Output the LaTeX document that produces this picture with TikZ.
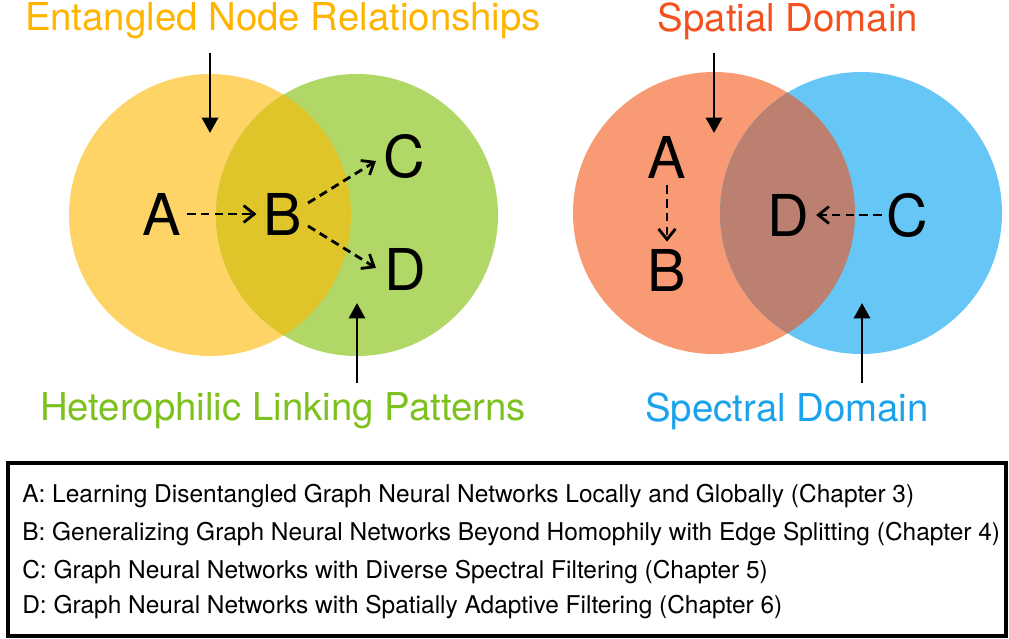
\documentclass[tikz,border=0pt]{standalone}
\usepackage{fontspec}
\setmainfont{TeX Gyre Heros}
\usetikzlibrary{arrows.meta}
\definecolor{cyellow}{HTML}{FED467}
\definecolor{cgreen}{HTML}{B1D767}
\definecolor{cyg}{HTML}{DFC42A}
\definecolor{cred}{HTML}{F89A74}
\definecolor{cblue}{HTML}{66C6F5}
\definecolor{crb}{HTML}{BB8070}
\definecolor{tyellow}{HTML}{FFB400}
\definecolor{tgreen}{HTML}{7DC11F}
\definecolor{tred}{HTML}{F4511E}
\definecolor{tblue}{HTML}{1AA3EC}
\begin{document}
\begin{tikzpicture}[x=0.025cm,y=-0.025cm,
  letter/.style={font=\fontsize{41}{41}\selectfont, inner sep=1pt},
  title/.style={font=\fontsize{27.3}{28}\selectfont},
  item/.style={font=\fontsize{17.4}{18}\selectfont, anchor=west, inner sep=0pt},
  dasharrow/.style={line width=2pt, dash pattern=on 6pt off 3.8pt, -{Straight Barb[length=7.5pt,width=12pt]}},
  bigarrow/.style={line width=2.1pt, -{Triangle[length=11pt,width=11.5pt]}}]
\useasboundingbox (0,0) rectangle (1009,639);
% left venn
\fill[cyellow] (210,215) circle [radius=141];
\fill[cgreen] (357,215) circle [radius=141];
\begin{scope}
\clip (210,215) circle [radius=141];
\fill[cyg] (357,215) circle [radius=141];
\end{scope}
% right venn
\fill[cred] (714,213) circle [radius=141];
\fill[cblue] (861,213) circle [radius=141];
\begin{scope}
\clip (714,213) circle [radius=141];
\fill[crb] (861,213) circle [radius=141];
\end{scope}
% titles
\node[title, text=tyellow] (entangled) at (283,21) {Entangled Node Relationships};
\node[title, text=tgreen] (hetero) at (283,411) {Heterophilic Linking Patterns};
\node[title, text=tred] (spatial) at (788,21) {Spatial Domain};
\node[title, text=tblue] (spectral) at (787,411) {Spectral Domain};
\coordinate (ltop) at (210,53);
\coordinate (ltip) at (210,133);
\coordinate (lbot) at (357,383);
\coordinate (lbtip) at (357,303);
\coordinate (rtop) at (714,53);
\coordinate (rtip) at (714,133);
\coordinate (rbot) at (862,383);
\coordinate (rbtip) at (862,303);
\draw[bigarrow] (ltop) -- (ltip);
\draw[bigarrow] (lbot) -- (lbtip);
\draw[bigarrow] (rtop) -- (rtip);
\draw[bigarrow] (rbot) -- (rbtip);
% left letters
\node[letter] (la) at (162,214) {A};
\node[letter] (lb) at (283,214) {B};
\node[letter] (lc) at (404,156) {C};
\node[letter] (ld) at (405,269) {D};
\draw[dasharrow] ([xshift=3]la.east) -- ([xshift=-4]lb.west);
\draw[dasharrow] (308,203) -- (376,161);
\draw[dasharrow] (308,226) -- (376,268);
% right letters
\node[letter] (ra) at (667,157) {A};
\node[letter] (rb) at (667,270) {B};
\node[letter] (rd) at (788,215) {D};
\node[letter] (rc) at (907,215) {C};
\draw[dasharrow] ([yshift=-4]ra.south) -- ([yshift=4]rb.north);
\draw[dasharrow] ([xshift=-2]rc.west) -- ([xshift=4]rd.east);
% legend
\draw[line width=2.2pt] (8,463) rectangle (1006,636);
\node[item] (ia) at (22,496) {A: Learning Disentangled Graph Neural Networks Locally and Globally (Chapter 3)};
\node[item] (ib) at (22,534) {B: Generalizing Graph Neural Networks Beyond Homophily with Edge Splitting (Chapter 4)};
\node[item] (ic) at (22,572) {C: Graph Neural Networks with Diverse Spectral Filtering (Chapter 5)};
\node[item] (id) at (22,607) {D: Graph Neural Networks with Spatially Adaptive Filtering (Chapter 6)};
\end{tikzpicture}
\end{document}
